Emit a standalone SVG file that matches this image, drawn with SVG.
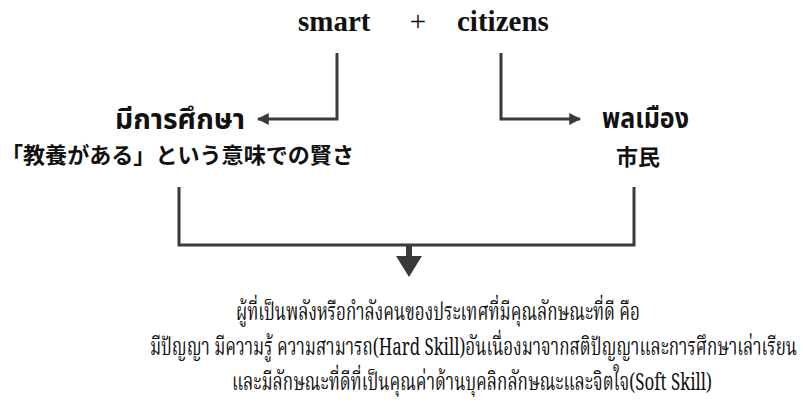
<svg xmlns="http://www.w3.org/2000/svg" width="803" height="404" viewBox="0 0 803 404">
<defs>
<style>
.en{font-family:"Liberation Serif","Times New Roman",serif;font-weight:bold;font-size:29px;fill:#111}
.plus{font-family:"Liberation Serif",serif;font-size:29px;fill:#111}
.th{font-family:"Noto Sans Thai","Noto Sans","DejaVu Sans",sans-serif;font-weight:bold;font-size:28px;fill:#111}
.jp{font-family:"Noto Sans CJK JP",sans-serif;font-weight:bold;font-size:22px;fill:#111}
.body{font-family:"Noto Serif Thai","Liberation Serif",serif;font-size:24px;fill:#111}
.ln{fill:none;stroke:#3a3a3a;stroke-width:3}
</style>
<marker id="ah" viewBox="0 0 10 10" refX="9" refY="5" markerWidth="4" markerHeight="4" orient="auto">
<path d="M0,0 L10,5 L0,10 Z" fill="#3a3a3a"/>
</marker>
</defs>
<rect width="803" height="404" fill="#fff"/>
<g id="title">
<text class="en" x="298" y="31">smart</text>
<text class="plus" x="418" y="31" text-anchor="middle">+</text>
<text class="en" x="457" y="31">citizens</text>
</g>
<g id="connectors">
<path class="ln" d="M337,53 V119 H258" marker-end="url(#ah)"/>
<path class="ln" d="M501,53 V119 H580" marker-end="url(#ah)"/>
<path class="ln" d="M179,187 V245 H634 V187"/>
<path d="M409,245 V258" stroke="#3a3a3a" stroke-width="6"/>
<path d="M396,256 L422,256 L409,277 Z" fill="#3a3a3a"/>
</g>
<g id="node-smart">
<text class="th" x="115" y="129" textLength="130" lengthAdjust="spacingAndGlyphs">มีการศึกษา</text>
<text class="jp" x="1" y="163" textLength="353" lengthAdjust="spacingAndGlyphs">「教養がある」という意味での賢さ</text>
</g>
<g id="node-citizens">
<text class="th" x="602" y="128" textLength="87" lengthAdjust="spacingAndGlyphs">พลเมือง</text>
<text class="jp" x="616" y="165" textLength="44" lengthAdjust="spacingAndGlyphs">市民</text>
</g>
<g id="node-result">
<text class="body" x="236" y="320" textLength="404" lengthAdjust="spacingAndGlyphs">ผู้ที่เป็นพลังหรือกำลังคนของประเทศที่มีคุณลักษณะที่ดี คือ</text>
<text class="body" x="150" y="355" textLength="647" lengthAdjust="spacingAndGlyphs">มีปัญญา มีความรู้ ความสามารถ(Hard Skill)อันเนื่องมาจากสติปัญญาและการศึกษาเล่าเรียน</text>
<text class="body" x="232" y="390" textLength="480" lengthAdjust="spacingAndGlyphs">และมีลักษณะที่ดีที่เป็นคุณค่าด้านบุคลิกลักษณะและจิตใจ(Soft Skill)</text>
</g>
</svg>
